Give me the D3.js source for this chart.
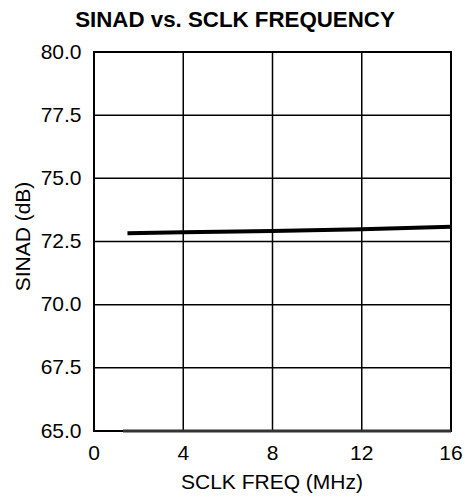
<!DOCTYPE html>
<html>
<head>
<meta charset="utf-8">
<script src="https://cdn.jsdelivr.net/npm/d3@7"></script>
<style>
  body { margin: 0; background: #fff; }
  text { font-family: "Liberation Sans", Arial, sans-serif; fill: #000; }
</style>
</head>
<body>
<div id="chart"></div>
<script>
// values
var freq = [1.5, 4, 8, 12, 16];
var sinad = [72.83, 72.87, 72.92, 72.98, 73.08];
var floorFreq = [1.3, 16];
var floorSinad = [65.0, 65.0];
var xTicks = [0, 4, 8, 12, 16];
var yTicks = [65, 67.5, 70, 72.5, 75, 77.5, 80];

let width = 465, height = 497;
let margin = {left: 94, right: 14, top: 52, bottom: 66};

let svg = d3.select("#chart")
        .append("svg")
        .attr("width", width)
        .attr("height", height);

let x = d3.scaleLinear().domain([0, 16]).range([margin.left, width - margin.right]);
let y = d3.scaleLinear().domain([65, 80]).range([height - margin.bottom, margin.top]);

// grid
svg.selectAll(".vgrid")
    .data(xTicks)
  .enter().append("line")
    .attr("x1", d => x(d)).attr("x2", d => x(d))
    .attr("y1", y(65)).attr("y2", y(80))
    .attr("stroke", "#000")
    .attr("stroke-width", 1.5);

svg.selectAll(".hgrid")
    .data(yTicks)
  .enter().append("line")
    .attr("x1", x(0)).attr("x2", x(16))
    .attr("y1", d => y(d)).attr("y2", d => y(d))
    .attr("stroke", "#000")
    .attr("stroke-width", 1.5);

svg.append("rect")
    .attr("x", x(0)).attr("y", y(80))
    .attr("width", x(16) - x(0)).attr("height", y(65) - y(80))
    .attr("fill", "none")
    .attr("stroke", "#000")
    .attr("stroke-width", 2);

// tick labels
svg.selectAll(".ylab")
    .data(yTicks)
  .enter().append("text")
    .attr("x", x(0) - 12.5)
    .attr("y", d => y(d))
    .attr("dy", "0.31em")
    .style("text-anchor", "end")
    .style("font-size", "21px")
    .text(d => d.toFixed(1));

svg.selectAll(".xlab")
    .data(xTicks)
  .enter().append("text")
    .attr("x", d => x(d))
    .attr("y", 460)
    .style("text-anchor", "middle")
    .style("font-size", "21px")
    .text(d => d);

// data
let line = d3.line().x(d => x(d[0])).y(d => y(d[1]));

svg.append("path")
    .datum(d3.zip(floorFreq, floorSinad))
    .attr("d", line)
    .attr("fill", "none")
    .attr("stroke", "#333")
    .attr("stroke-width", 3);

svg.append("path")
    .datum(d3.zip(freq, sinad))
    .attr("d", line)
    .attr("fill", "none")
    .attr("stroke", "#000")
    .attr("stroke-width", 4);

// titles
svg.append("text")
    .attr("x", 235).attr("y", 27)
    .style("text-anchor", "middle")
    .style("font-size", "22.3px")
    .style("font-weight", "bold")
    .text("SINAD vs. SCLK FREQUENCY");

svg.append("text")
    .attr("x", 272).attr("y", 489)
    .style("text-anchor", "middle")
    .style("font-size", "21px")
    .text("SCLK FREQ (MHz)");

svg.append("text")
    .attr("transform", "translate(30,236.5) rotate(-90)")
    .style("text-anchor", "middle")
    .style("font-size", "21px")
    .text("SINAD (dB)");
</script>
</body>
</html>
